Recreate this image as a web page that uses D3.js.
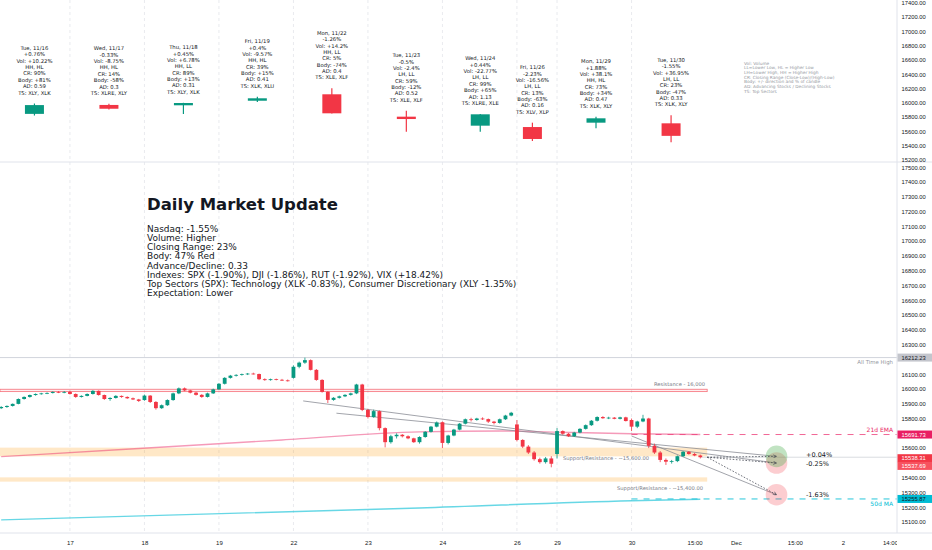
<!DOCTYPE html>
<html lang="en">
<head>
<meta charset="UTF-8" />
<title>Daily Market Update</title>
<script src="https://cdn.jsdelivr.net/npm/d3@7"></script>
<style>
  body { margin: 0; background: #fff; }
  svg { display: block; font-family: "DejaVu Sans", sans-serif; }
</style>
</head>
<body>
<script>
// ---------- data ----------
// daily candles (top pane)
const dailyDates = ["Tue, 11/16","Wed, 11/17","Thu, 11/18","Fri, 11/19","Mon, 11/22","Tue, 11/23","Wed, 11/24","Fri, 11/26","Mon, 11/29","Tue, 11/30"];
const dailyBar = [5.8, 18.8, 31.8, 44.7, 57.7, 70.7, 83.6, 92.7, 103.8, 116.9];
const dailyOHLC = [
  [15845,15990,15822,15968],[15970,15985,15905,15917],[15965,16000,15843,15997],
  [16029,16085,16011,16063],[16119,16203,15850,15853],[15806,15890,15596,15773],
  [15680,15845,15596,15839],[15661,15722,15466,15494],[15722,15806,15643,15783],
  [15713,15825,15448,15537.69]
];
const dailyChange = ["+0.76%","-0.33%","+0.45%","+0.4%","-1.26%","-0.5%","+0.44%","-2.23%","+1.88%","-1.55%"];
const dailyVol = ["+10.22%","-8.75%","+6.78%","-9.57%","+14.2%","-2.4%","-22.77%","-16.56%","+38.1%","+36.95%"];
const dailyHL = ["HH, HL","HH, HL","HH, LL","HH, HL","HH, LL","LH, LL","LH, LL","LH, LL","HH, HL","LH, LL"];
const dailyCR = ["90%","14%","89%","39%","5%","59%","99%","13%","73%","23%"];
const dailyBody = ["+81%","-58%","+13%","+15%","-74%","-12%","+65%","-63%","+34%","-47%"];
const dailyAD = ["0.59","0.3","0.31","0.41","0.4","0.52","1.13","0.16","0.47","0.33"];
const dailyTS = ["XLY, XLK","XLRE, XLY","XLY, XLK","XLK, XLU","XLE, XLF","XLE, XLF","XLRE, XLE","XLV, XLP","XLK, XLY","XLK, XLY"];
const legendLines = ["Vol: Volume","LL=Lower Low, HL = Higher Low","LH=Lower High, HH = Higher High",
  "CR: Closing Range (Close-Low)/(High-Low)","Body: +/- direction and % of candle",
  "AD: Advancing Stocks / Declining Stocks","TS: Top Sectors"];

// summary text
const summaryTitle = "Daily Market Update";
const summaryLines = ["Nasdaq: -1.55%","Volume: Higher","Closing Range: 23%","Body: 47% Red","Advance/Decline: 0.33",
  "Indexes: SPX (-1.90%), DJI (-1.86%), RUT (-1.92%), VIX (+18.42%)",
  "Top Sectors (SPX): Technology (XLK -0.83%), Consumer Discretionary (XLY -1.35%)",
  "Expectation: Lower"];

// time axis
const timeLabels = ["17","18","19","22","23","24","26","29","30","15:00","Dec","15:00","2","14:00"];
const timeBars = [12,25,38,51,64,77,90,97,110,121,128.2,138.5,146.9,155.1];
const dayStartBars = [12,25,38,51,64,77,90,97,110];

// price ticks
const topTicks = d3.range(15200, 17401, 200);
const botTicks = d3.range(15100, 17501, 100);

// 30-minute candles, 16 Nov (partial) to 30 Nov: [open, high, low, close]
const intraday = [
  [15870,15884,15864,15878],[15878,15889,15872,15885],[15885,15902,15881,15899],[15899,15936,15896,15932],
  [15932,15950,15928,15946],[15946,15962,15941,15959],[15959,15970,15954,15966],[15966,15974,15961,15970],
  [15970,15977,15965,15973],[15973,15984,15969,15980],[15980,15985,15972,15976],[15976,15986,15971,15980],
  // 17
  [15980,15988,15962,15966],[15966,15970,15940,15946],[15946,15957,15942,15953],[15953,15970,15950,15966],
  [15966,15992,15962,15987],[15987,15990,15955,15959],[15959,15962,15926,15932],[15932,15944,15920,15939],
  [15939,15958,15935,15953],[15953,15956,15940,15946],[15946,15950,15933,15937],[15937,15942,15925,15929],
  [15929,15933,15912,15919],
  // 18
  [15925,15962,15920,15955],[15955,15958,15905,15912],[15912,15918,15860,15870],[15870,15895,15865,15890],
  [15890,15930,15885,15925],[15925,15975,15920,15970],[15970,16010,15965,16004],[16004,16010,15985,15990],
  [15990,15994,15970,15975],[15975,15980,15955,15960],[15960,15965,15940,15946],[15946,15975,15942,15970],
  [15970,16002,15966,15997],
  // 19
  [15997,16040,15995,16035],[16035,16080,16030,16075],[16075,16095,16070,16090],[16090,16100,16084,16095],
  [16095,16104,16090,16100],[16100,16108,16094,16104],[16104,16110,16098,16101],[16101,16104,16060,16066],
  [16066,16072,16055,16060],[16060,16070,16056,16066],[16066,16070,16058,16062],[16062,16068,16054,16058],
  [16058,16064,16050,16057],
  // 22
  [16075,16160,16070,16150],[16150,16185,16140,16178],[16178,16212,16170,16195],[16195,16200,16125,16129],
  [16129,16135,16055,16061],[16061,16066,15975,15980],[15980,15985,15905,15926],[15926,15945,15920,15940],
  [15940,15955,15935,15950],[15950,15965,15945,15960],[15960,15975,15955,15970],[15970,16035,15965,16030],
  [16030,16035,15850,15858],
  // 23
  [15858,15865,15800,15810],[15810,15860,15805,15850],[15850,15855,15720,15735],[15735,15740,15605,15640],
  [15640,15690,15630,15680],[15680,15700,15665,15690],[15690,15695,15672,15680],[15680,15686,15660,15666],
  [15666,15670,15635,15640],[15640,15680,15630,15675],[15675,15715,15670,15710],[15710,15750,15705,15745],
  [15745,15780,15740,15773],
  // 24
  [15775,15780,15600,15635],[15635,15690,15625,15685],[15685,15730,15680,15725],[15725,15770,15720,15765],
  [15765,15800,15760,15795],[15795,15805,15780,15790],[15790,15805,15785,15800],[15800,15808,15790,15796],
  [15796,15800,15770,15779],[15779,15784,15760,15770],[15770,15800,15765,15795],[15795,15825,15790,15820],
  [15820,15845,15815,15839],
  // 26 (half day)
  [15760,15790,15645,15655],[15655,15660,15600,15610],[15610,15620,15560,15570],[15570,15580,15515,15525],
  [15525,15535,15495,15505],[15505,15540,15495,15530],[15530,15545,15470,15494],
  // 29
  [15560,15735,15530,15715],[15715,15720,15690,15697],[15697,15702,15675,15680],[15680,15710,15675,15705],
  [15705,15735,15700,15730],[15730,15760,15725,15755],[15755,15790,15750,15785],[15785,15815,15780,15810],
  [15810,15816,15798,15802],[15802,15812,15796,15806],[15806,15810,15795,15798],[15798,15812,15794,15808],
  [15808,15812,15780,15783],
  // 30
  [15790,15800,15715,15745],[15745,15785,15735,15780],[15780,15825,15775,15800],[15800,15805,15600,15615],
  [15615,15630,15560,15570],[15570,15580,15505,15520],[15520,15530,15486,15508],[15508,15520,15495,15512],
  [15512,15550,15505,15545],[15545,15580,15540,15575],[15575,15580,15555,15560],[15560,15568,15545,15550],
  [15550,15556,15530,15538.31]
];

// indicator lines read at a few bars: [bar, value]
const ema21 = [[0,15542],[24,15597],[49,15655],[73,15710],[87,15716],[97,15708],[110,15697],[122,15692]];
const ema21Last = 15691.73;
const ma50 = [[0,15114],[73,15195],[110,15244],[122,15254]];
const ma50Last = 15255.87;

// levels and drawings
const athValue = 16212.23;
const resistanceZone = [15982, 15998];
const supportZones = [[15544, 15603], [15373, 15402]];
const zoneEndBar = 123.2;
const trendLines = [
  [[52.7,15919],[135.3,15499]],
  [[58.5,15836],[135.3,15544]],
  [[110,15682],[135.3,15284]]
];
const lastClose = 15538.31;
const dailyClose = 15537.69;
const targetPct = [0.04, -0.25, -1.63];
const targetBar = 135.3;

// ---------- layout ----------
const W = 932, H = 550;
const axisX = 897, paneSplit = 162, timeAxisY = 533;
const upColor = "#089981", downColor = "#f23645";
const textColor = "#131722", greyText = "#787b86";

const x = d3.scaleLinear().domain([0, 122]).range([1.2, 700.3]);
const yTop = d3.scaleLinear().domain([15200, 17400]).range([160, 2.7]);
const yBot = d3.scaleLinear().domain([15100, 17400]).range([522, 182]);

const svg = d3.select("body").append("svg").attr("width", W).attr("height", H);
const defs = svg.append("defs");
defs.append("clipPath").attr("id", "clipTop").append("rect")
  .attr("x", 0).attr("y", 0).attr("width", axisX).attr("height", paneSplit);
defs.append("clipPath").attr("id", "clipBot").append("rect")
  .attr("x", 0).attr("y", paneSplit).attr("width", axisX).attr("height", timeAxisY - paneSplit);
defs.append("clipPath").attr("id", "clipAxTop").append("rect")
  .attr("x", axisX).attr("y", 0).attr("width", W - axisX).attr("height", paneSplit);
defs.append("clipPath").attr("id", "clipAxBot").append("rect")
  .attr("x", axisX).attr("y", paneSplit).attr("width", W - axisX).attr("height", timeAxisY - paneSplit);
defs.append("marker").attr("id", "arrow")
  .attr("viewBox", "0 0 6 6").attr("refX", 5.5).attr("refY", 3)
  .attr("markerWidth", 5).attr("markerHeight", 5).attr("orient", "auto")
  .append("path").attr("d", "M0.5,0.5 L5.5,3 L0.5,5.5")
  .attr("fill", "none").attr("stroke", "#4a4e59").attr("stroke-width", 0.9);

svg.append("rect").attr("width", W).attr("height", H).attr("fill", "#fff");

// vertical grid at each session start
svg.append("g").selectAll("line").data(dayStartBars).enter().append("line")
  .attr("x1", d => x(d)).attr("x2", d => x(d))
  .attr("y1", 0).attr("y2", timeAxisY)
  .attr("stroke", "#e3e5ea").attr("stroke-width", 0.8).attr("stroke-dasharray", "3,3");

// ---------- top pane: daily candles ----------
const topG = svg.append("g").attr("clip-path", "url(#clipTop)");
const dailyG = topG.selectAll("g.day").data(dailyOHLC).enter().append("g").attr("class", "day");
dailyG.append("line")
  .attr("x1", (d, i) => x(dailyBar[i])).attr("x2", (d, i) => x(dailyBar[i]))
  .attr("y1", d => yTop(d[1])).attr("y2", d => yTop(d[2]))
  .attr("stroke", d => d[3] >= d[0] ? upColor : downColor).attr("stroke-width", 1.2);
dailyG.append("rect")
  .attr("x", (d, i) => x(dailyBar[i]) - 9.5).attr("width", 19)
  .attr("y", d => yTop(Math.max(d[0], d[3])))
  .attr("height", d => Math.max(1.5, Math.abs(yTop(d[0]) - yTop(d[3]))))
  .attr("fill", d => d[3] >= d[0] ? upColor : downColor);

dailyG.each(function (d, i) {
  const lines = [dailyDates[i], dailyChange[i], "Vol: " + dailyVol[i], dailyHL[i],
    "CR: " + dailyCR[i], "Body: " + dailyBody[i], "AD: " + dailyAD[i], "TS: " + dailyTS[i]];
  const base = yTop(d[1]) - 9;
  d3.select(this).selectAll("text").data(lines).enter().append("text")
    .attr("x", x(dailyBar[i]))
    .attr("y", (t, k) => base - (lines.length - 1 - k) * 6.35)
    .attr("text-anchor", "middle").attr("font-size", 5.3).attr("fill", textColor)
    .text(t => t);
});

topG.append("g").selectAll("text").data(legendLines).enter().append("text")
  .attr("x", 744).attr("y", (d, i) => 64.8 + i * 4.65)
  .attr("font-size", 4.3).attr("fill", "#9598a1").text(d => d);

// ---------- bottom pane ----------
const bot = svg.append("g").attr("clip-path", "url(#clipBot)");

bot.append("line").attr("x1", 0).attr("x2", axisX)
  .attr("y1", yBot(athValue)).attr("y2", yBot(athValue))
  .attr("stroke", "#d1d4dc").attr("stroke-width", 1);

bot.selectAll("rect.zone").data(supportZones).enter().append("rect").attr("class", "zone")
  .attr("x", 0).attr("width", x(zoneEndBar))
  .attr("y", d => yBot(d[1])).attr("height", d => yBot(d[0]) - yBot(d[1]))
  .attr("fill", "rgba(255,152,0,0.22)");

bot.append("rect")
  .attr("x", 0).attr("width", x(zoneEndBar))
  .attr("y", yBot(resistanceZone[1])).attr("height", yBot(resistanceZone[0]) - yBot(resistanceZone[1]))
  .attr("fill", "rgba(242,54,69,0.08)").attr("stroke", "#f23645").attr("stroke-opacity", 0.7).attr("stroke-width", 0.8);

const line = d3.line().x(d => x(d[0])).y(d => yBot(d[1])).curve(d3.curveMonotoneX);

// 50d MA
bot.append("path").datum(ma50).attr("d", line)
  .attr("fill", "none").attr("stroke", "#26c6da").attr("stroke-opacity", 0.7).attr("stroke-width", 1.4);
bot.append("line").attr("x1", x(110)).attr("x2", axisX)
  .attr("y1", yBot(ma50Last)).attr("y2", yBot(ma50Last))
  .attr("stroke", "#26c6da").attr("stroke-width", 1).attr("stroke-dasharray", "6,6");

// 21d EMA
bot.append("path").datum(ema21).attr("d", line)
  .attr("fill", "none").attr("stroke", "#e91e63").attr("stroke-opacity", 0.45).attr("stroke-width", 1.4);
bot.append("line").attr("x1", x(110)).attr("x2", axisX)
  .attr("y1", yBot(ema21Last)).attr("y2", yBot(ema21Last))
  .attr("stroke", "#ec407a").attr("stroke-opacity", 0.8).attr("stroke-width", 1).attr("stroke-dasharray", "6,6");

// trend lines
bot.selectAll("line.trend").data(trendLines).enter().append("line").attr("class", "trend")
  .attr("x1", d => x(d[0][0])).attr("y1", d => yBot(d[0][1]))
  .attr("x2", d => x(d[1][0])).attr("y2", d => yBot(d[1][1]))
  .attr("stroke", "#8a8d96").attr("stroke-width", 0.8);

// last price line
bot.append("line").attr("x1", x(122)).attr("x2", axisX)
  .attr("y1", yBot(lastClose)).attr("y2", yBot(lastClose))
  .attr("stroke", "#c9ccd3").attr("stroke-width", 0.7);

// candles
const cg = bot.selectAll("g.c").data(intraday).enter().append("g").attr("class", "c");
cg.append("line")
  .attr("x1", (d, i) => x(i)).attr("x2", (d, i) => x(i))
  .attr("y1", d => yBot(d[1])).attr("y2", d => yBot(d[2]))
  .attr("stroke", d => d[3] >= d[0] ? upColor : downColor).attr("stroke-width", 0.8);
cg.append("rect")
  .attr("x", (d, i) => x(i) - 1.9).attr("width", 3.8)
  .attr("y", d => yBot(Math.max(d[0], d[3])))
  .attr("height", d => Math.max(0.8, Math.abs(yBot(d[0]) - yBot(d[3]))))
  .attr("fill", d => d[3] >= d[0] ? upColor : downColor);

// projection circles and arrows
const targets = targetPct.map(p => dailyClose * (1 + p / 100));
[1, 0, 2].forEach(k => {
  bot.append("circle").attr("cx", x(targetBar)).attr("cy", yBot(targets[k])).attr("r", 10.8)
    .attr("fill", k === 0 ? "rgba(76,175,80,0.35)" : "rgba(242,54,69,0.25)");
});
bot.selectAll("line.arrow").data(targets).enter().append("line").attr("class", "arrow")
  .attr("x1", x(123.2)).attr("y1", yBot(lastClose))
  .attr("x2", x(targetBar)).attr("y2", d => yBot(d))
  .attr("stroke", "#4a4e59").attr("stroke-width", 0.8).attr("stroke-dasharray", "1.6,1.6")
  .attr("marker-end", "url(#arrow)");
const pctShift = [0.6, 2.8, 1.8];
bot.selectAll("text.pct").data(targets).enter().append("text").attr("class", "pct")
  .attr("x", 806).attr("y", (d, i) => yBot(d) + pctShift[i])
  .attr("font-size", 6.5).attr("fill", textColor)
  .text((d, i) => (targetPct[i] > 0 ? "+" : "") + targetPct[i].toFixed(2) + "%");

// level labels
const lbl = (t, xx, yy, anchor, color, size) => bot.append("text")
  .attr("x", xx).attr("y", yy).attr("text-anchor", anchor)
  .attr("font-size", size).attr("fill", color).text(t);
lbl("Resistance - 16,000", x(zoneEndBar) - 2, yBot(resistanceZone[1]) - 3.3, "end", greyText, 5.2);
lbl("Support/Resistance - ~15,600.00", 563, yBot(supportZones[0][0]) + 3.5, "start", greyText, 5.2);
lbl("Support/Resistance - ~15,400.00", x(zoneEndBar) - 4, yBot(supportZones[1][0]) + 8, "end", greyText, 5.2);
lbl("All Time High", 893, yBot(athValue) + 6.3, "end", "#9598a1", 5.4);
lbl("21d EMA", 893, yBot(ema21Last) - 2.6, "end", "#e91e63", 6);
lbl("50d MA", 893, yBot(ma50Last) + 7, "end", "#00bcd4", 6);

// summary block
const sumG = svg.append("g");
const title = sumG.append("text").attr("x", 147).attr("y", 210)
  .attr("font-size", 10).attr("font-weight", "bold").attr("fill", textColor).text(summaryTitle);
title.attr("font-size", 10 * 191 / title.node().getComputedTextLength());
const probe = sumG.append("text").attr("font-size", 10).text(summaryLines[6]);
const sumSize = 10 * 370 / probe.node().getComputedTextLength();
probe.remove();
sumG.selectAll("text.s").data(summaryLines).enter().append("text").attr("class", "s")
  .attr("x", 147).attr("y", (d, i) => 231.5 + i * 9.25)
  .attr("font-size", sumSize).attr("fill", textColor).text(d => d);

// ---------- axes ----------
const tAxis = svg.append("g").attr("transform", `translate(0,${timeAxisY})`)
  .call(d3.axisBottom(x).tickValues(timeBars).tickFormat((d, i) => timeLabels[i]).tickSize(0).tickPadding(7.5));
tAxis.select(".domain").remove();
tAxis.selectAll("text").attr("font-size", 6).attr("font-family", "Liberation Sans, sans-serif").attr("fill", textColor);

svg.append("rect").attr("x", axisX).attr("y", 0).attr("width", W - axisX).attr("height", H).attr("fill", "#fff");
svg.append("line").attr("x1", 0).attr("x2", W).attr("y1", paneSplit).attr("y2", paneSplit)
  .attr("stroke", "#e0e3eb").attr("stroke-width", 1);
svg.append("line").attr("x1", 0).attr("x2", W).attr("y1", timeAxisY).attr("y2", timeAxisY)
  .attr("stroke", "#e0e3eb").attr("stroke-width", 1);
svg.append("line").attr("x1", axisX).attr("x2", axisX).attr("y1", 0).attr("y2", timeAxisY)
  .attr("stroke", "#e0e3eb").attr("stroke-width", 1);

const tagValues = [athValue, ema21Last, lastClose, dailyClose, ma50Last];
const axTop = svg.append("g").attr("clip-path", "url(#clipAxTop)").append("g")
  .attr("transform", `translate(${axisX},0)`)
  .call(d3.axisRight(yTop).tickValues(topTicks).tickFormat(d3.format(".2f")).tickSize(0).tickPadding(4.5));
const axBot = svg.append("g").attr("clip-path", "url(#clipAxBot)").append("g")
  .attr("transform", `translate(${axisX},0)`)
  .call(d3.axisRight(yBot).tickValues(botTicks.filter(v => tagValues.every(t => Math.abs(yBot(v) - yBot(t)) > 6)))
    .tickFormat(d3.format(".2f")).tickSize(0).tickPadding(4.5));
[axTop, axBot].forEach(g => {
  g.select(".domain").remove();
  g.selectAll("text").attr("font-size", 5.8).attr("font-family", "Liberation Sans, sans-serif").attr("fill", textColor);
});

// price tags
const tags = [
  { v: athValue, bg: "#c3c5cc", fg: textColor, dy: 0 },
  { v: ema21Last, bg: "#e91e63", fg: "#fff", dy: 0 },
  { v: lastClose, bg: "#f23645", fg: "#fff", dy: 1 },
  { v: dailyClose, bg: "#f7525f", fg: "#fff", dy: 8.6 },
  { v: ma50Last, bg: "#00bcd4", fg: textColor, dy: 0 }
];
const tagG = svg.append("g").selectAll("g").data(tags).enter().append("g")
  .attr("transform", d => `translate(${axisX},${yBot(d.v) + d.dy})`);
tagG.append("rect").attr("x", 0.5).attr("y", -4).attr("width", W - axisX - 0.5).attr("height", 8).attr("fill", d => d.bg);
tagG.append("text").attr("x", 4.5).attr("y", 2.1)
  .attr("font-size", 5.8).attr("font-family", "Liberation Sans, sans-serif")
  .attr("fill", d => d.fg).text(d => d.v.toFixed(2));
</script>
</body>
</html>
